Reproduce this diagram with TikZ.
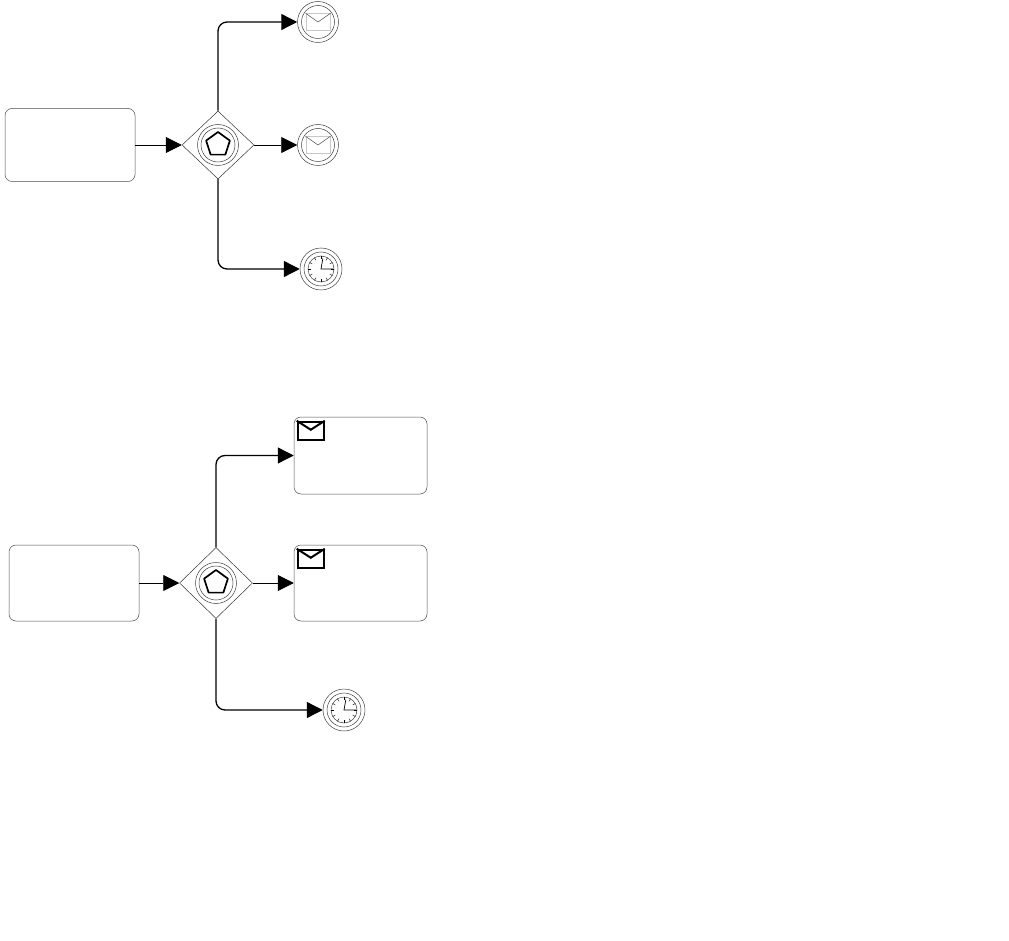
\documentclass[tikz,border=0pt]{standalone}
\usepackage{tikz}
\usetikzlibrary{shapes.geometric,arrows.meta,positioning,calc}

\begin{document}
\begin{tikzpicture}[
    x=1pt, y=-1pt,
    task/.style={rectangle, draw=black!70, line width=0.5pt, rounded corners=7pt, inner sep=0pt},
    gateway/.style={diamond, draw=black!80, line width=0.5pt, inner sep=0pt, minimum width=72pt, minimum height=68pt},
    ring/.style={circle, draw=black!75, line width=0.5pt, inner sep=0pt},
    outerring/.style={ring, minimum size=41pt},
    innerring/.style={ring, minimum size=33pt},
    penta/.style={regular polygon, regular polygon sides=5, draw=black, line width=1.7pt, inner sep=0pt, minimum size=25pt, line join=round},
    clock/.style={ring, minimum size=26pt},
    mail/.style={rectangle, draw=black!22, line width=1pt, inner sep=0pt, minimum width=24pt, minimum height=16.5pt},
    sendmail/.style={rectangle, draw=black, line width=2pt, inner sep=0pt, minimum width=26pt, minimum height=18pt},
    flow/.style={-{Triangle[length=16pt,width=16pt]}, line width=0.8pt},
    bentflow/.style={flow, line width=1.3pt, rounded corners=9pt}
]
    \useasboundingbox (0,0) rectangle (1009,941);

    % upper process
    \node[task, minimum width=130pt, minimum height=73pt] (taskA) at (70,145) {};
    \node[gateway] (gateA) at (218,145) {};
    \node[outerring] (gateAouter) at (gateA) {};
    \node[innerring, minimum size=34pt] (gateAinner) at (gateA) {};
    \node[penta] (gateAicon) at (218,144.5) {};

    \node[outerring] (msgA) at (318,22) {};
    \node[innerring] (msgAinner) at (msgA) {};
    \node[mail] (msgAicon) at (msgA) {};
    \node[outerring] (msgB) at (318,145) {};
    \node[innerring] (msgBinner) at (msgB) {};
    \node[mail] (msgBicon) at (msgB) {};
    \node[outerring, minimum size=42pt] (timeA) at (321,269) {};
    \node[innerring, minimum size=34pt] (timeAinner) at (timeA) {};
    \node[clock] (timeAicon) at (timeA) {};

    \draw[flow] (taskA.east |- gateA) -- (gateA.west);
    \draw[bentflow] (gateA.north) |- (msgA.west);
    \draw[flow] (gateA.east) -- (msgB.west);
    \draw[bentflow] (gateA.south) |- (timeA.west);

    % lower process
    \node[task, minimum width=130pt, minimum height=76pt] (taskB) at (74,583) {};
    \node[gateway, minimum width=73pt, minimum height=71pt] (gateB) at (216,583) {};
    \node[outerring] (gateBouter) at (gateB) {};
    \node[innerring, minimum size=34pt] (gateBinner) at (gateB) {};
    \node[penta] (gateBicon) at (216,582.5) {};

    \node[task, minimum width=133pt, minimum height=77pt] (sendA) at (360.5,455.5) {};
    \node[task, minimum width=133pt, minimum height=76pt] (sendB) at (360.5,583) {};
    \node[sendmail, below right=4pt and 3pt of sendA.north west] (sendAicon) {};
    \node[sendmail, below right=4pt and 3pt of sendB.north west] (sendBicon) {};
    \node[outerring, minimum size=42pt] (timeB) at (344,710) {};
    \node[innerring, minimum size=34pt] (timeBinner) at (timeB) {};
    \node[clock] (timeBicon) at (timeB) {};

    \draw[flow] (taskB.east) -- (gateB.west);
    \draw[bentflow] (gateB.north) |- (sendA.west);
    \draw[flow] (gateB.east) -- (sendB.west);
    \draw[bentflow] (gateB.south) |- (timeB.west);

    % envelope flaps
    \foreach \env in {msgAicon, msgBicon}
        \draw[line width=0.5pt, draw=black!70] (\env.north west) -- (\env.center) -- (\env.north east);
    \foreach \env in {sendAicon, sendBicon}
        \draw[line width=2pt] (\env.north west) -- ($(\env.center)+(0,-1)$) -- (\env.north east);

    % clock faces
    \foreach \face in {timeAicon, timeBicon} {
        \foreach \ang in {0,30,...,330}
            \draw[line width=0.4pt] (\face.\ang) -- ($(\face.center)!0.75!(\face.\ang)$);
        \draw[line width=0.7pt] ($(\face.center)!0.8!(\face.80)$) -- (\face.center) -- ($(\face.center)!0.9!(\face.0)$);
    }
\end{tikzpicture}
\end{document}
